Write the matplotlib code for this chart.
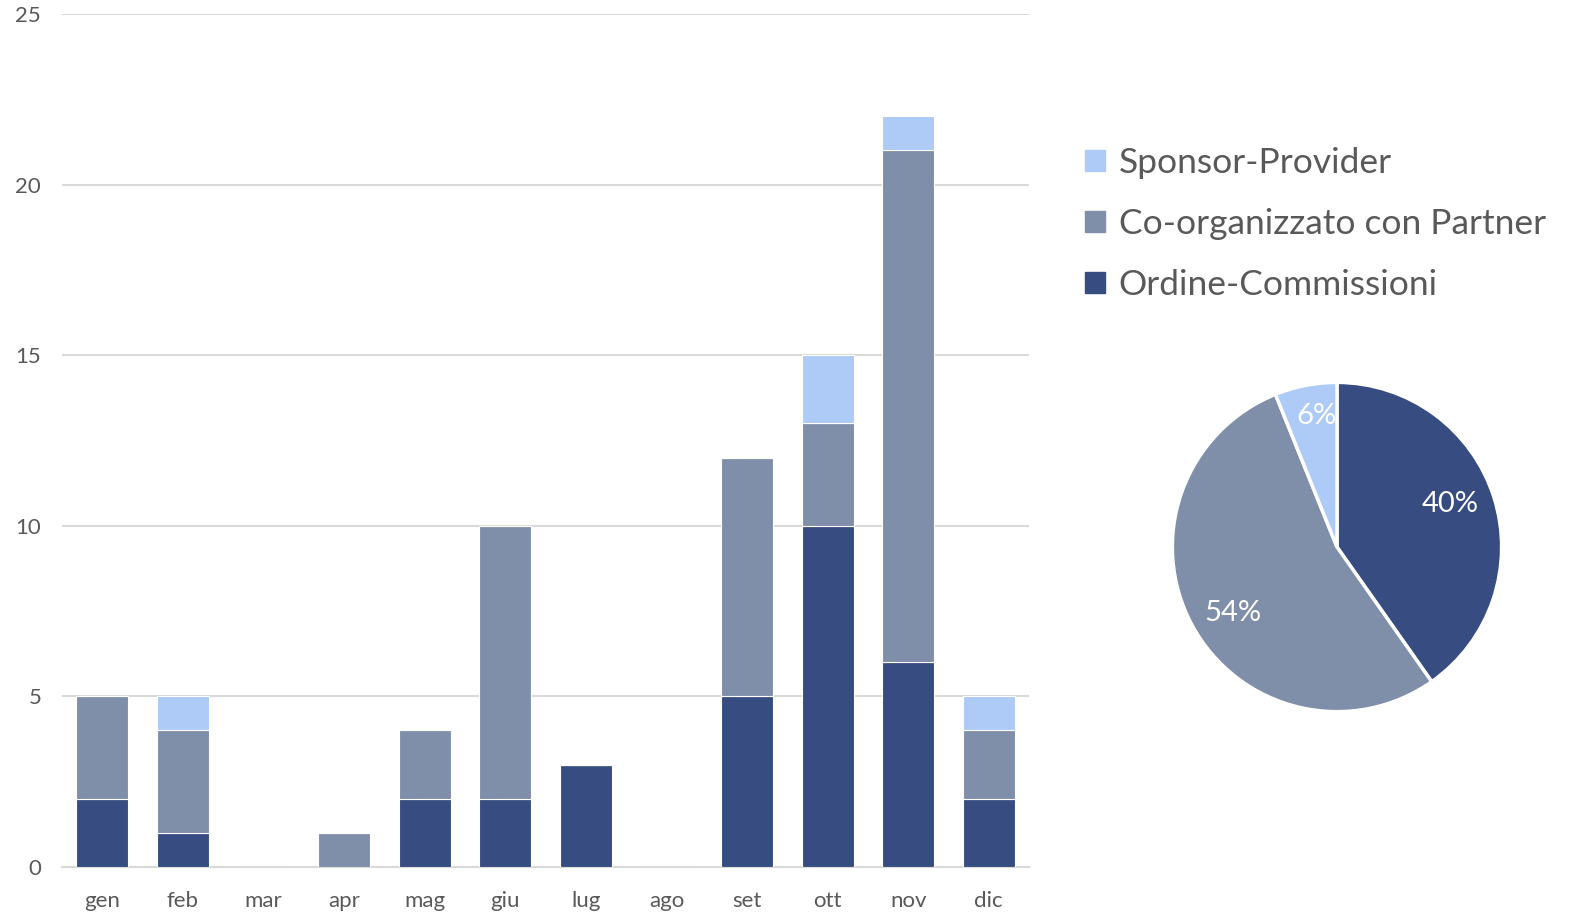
import numpy as np
import matplotlib
matplotlib.use("Agg")
import matplotlib.pyplot as plt
from matplotlib.patches import Patch

plt.rcParams['font.family'] = ['Lato', 'DejaVu Sans']

mesi = ['gen', 'feb', 'mar', 'apr', 'mag', 'giu', 'lug', 'ago', 'set', 'ott', 'nov', 'dic']
ordine = [2, 1, 0, 0, 2, 2, 3, 0, 5, 10, 6, 2]
coorg = [3, 3, 0, 1, 2, 8, 0, 0, 7, 3, 15, 2]
sponsor = [0, 1, 0, 0, 0, 0, 0, 0, 0, 2, 1, 1]

serie = ['Ordine-Commissioni', 'Co-organizzato con Partner', 'Sponsor-Provider']
colori = ['#374C80', '#7F8FA9', '#ADCBF6']
testo = '#595959'

fig = plt.figure(figsize=(15.71, 9.15), dpi=100)

# istogramma mensile
ax = fig.add_axes([0.0395, 0.0525, 0.6155, 0.9322])
x = np.arange(len(mesi))
w = 0.645
ordine_a = np.array(ordine)
coorg_a = np.array(coorg)
sponsor_a = np.array(sponsor)
ax.bar(x, ordine_a, w, color=colori[0], edgecolor='white', linewidth=0.8, zorder=3)
ax.bar(x, coorg_a, w, bottom=ordine_a, color=colori[1], edgecolor='white', linewidth=0.8, zorder=3)
ax.bar(x, sponsor_a, w, bottom=ordine_a + coorg_a, color=colori[2], edgecolor='white', linewidth=0.8, zorder=3)

ax.set_xlim(-0.5, 11.5)
ax.set_ylim(0, 25)
ax.set_yticks([0, 5, 10, 15, 20, 25])
ax.set_xticks(x)
ax.set_xticklabels(mesi)
ax.yaxis.grid(True, color='#D9D9D9', linewidth=1.5, zorder=0)
for s in ['top', 'right', 'left']:
    ax.spines[s].set_visible(False)
ax.spines['bottom'].set_color('#D9D9D9')
ax.spines['bottom'].set_linewidth(1.5)
ax.tick_params(axis='both', length=0, labelsize=16, colors=testo)
ax.tick_params(axis='y', pad=15)
ax.tick_params(axis='x', pad=17)

# legenda
handles = [Patch(color=colori[i]) for i in [2, 1, 0]]
labels = [serie[i] for i in [2, 1, 0]]
fig.legend(handles, labels, loc='upper left', bbox_to_anchor=(0.6795, 0.859),
           frameon=False, fontsize=25.5, labelcolor=testo, handlelength=0.55,
           handleheight=0.55, handletextpad=0.4, labelspacing=0.82, borderpad=0)

# torta totali
tot = [sum(ordine), sum(coorg), sum(sponsor)]
axp = fig.add_axes([0.7473, 0.2240, 0.2075, 0.3563])
wedges, txt, auto = axp.pie(tot, colors=colori, startangle=90, counterclock=False,
                            autopct='%1.0f%%', pctdistance=0.72,
                            wedgeprops=dict(edgecolor='white', linewidth=2.5),
                            textprops=dict(color='white', fontsize=21))
for t, dy in zip(auto, [0.043, -0.055, 0.0]):
    px, py = t.get_position()
    t.set_position((px, py + dy))
px, py = auto[2].get_position()
auto[2].set_position((px + 0.01, py + 0.09))
axp.set_xlim(-0.99, 0.99)
axp.set_ylim(-0.99, 0.99)
axp.set_aspect('equal')

fig.savefig('out.png', dpi=100)
